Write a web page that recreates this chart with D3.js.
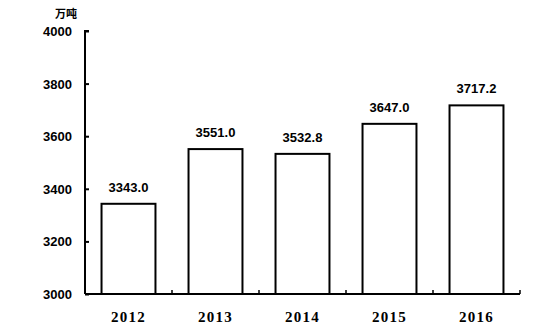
<!DOCTYPE html>
<html>
<head>
<meta charset="utf-8">
<script src="https://cdn.jsdelivr.net/npm/d3@7"></script>
<style>
  body { margin: 0; background: #fff; }
  svg { display: block; }
</style>
</head>
<body>
<div id="main"></div>
<script>
// Data
const years = ['2012', '2013', '2014', '2015', '2016'];
const values = [3343.0, 3551.0, 3532.8, 3647.0, 3717.2];
const yTicks = [3000, 3200, 3400, 3600, 3800, 4000];
const unitLabel = '万吨';

// Size of the SVG
const w = 538;
const h = 329;
const padLeft = 85;
const padRight = 520;
const padTop = 31;
const padBottom = 294;

const svg = d3.select('#main')
    .append('svg')
    .attr('width', w)
    .attr('height', h);

const xScale = d3.scaleBand()
    .domain(years)
    .range([padLeft, padRight])
    .paddingInner(0.38)
    .paddingOuter(0.19);

const yScale = d3.scaleLinear()
    .domain([3000, 4000])
    .range([padBottom, padTop]);

// bars
svg.selectAll('rect.bar')
    .data(values)
    .enter()
    .append('rect')
    .attr('class', 'bar')
    .attr('x', (d, i) => xScale(years[i]))
    .attr('y', (d) => yScale(d))
    .attr('width', xScale.bandwidth())
    .attr('height', (d) => padBottom - yScale(d))
    .style('fill', '#fff')
    .style('stroke', '#000')
    .style('stroke-width', 2);

// value labels
svg.selectAll('text.val')
    .data(values)
    .enter()
    .append('text')
    .attr('class', 'val')
    .attr('x', (d, i) => xScale(years[i]) + xScale.bandwidth() / 2)
    .attr('y', (d) => yScale(d) - 12)
    .attr('text-anchor', 'middle')
    .style('font-family', 'Arial, "Liberation Sans", sans-serif')
    .style('font-weight', 'bold')
    .style('font-size', '13px')
    .text((d) => d.toFixed(1));

// y axis
const yAxis = d3.axisRight(yScale).tickValues(yTicks).tickSize(4).tickFormat(d3.format('d'));
const gy = svg.append('g').attr('transform', `translate(${padLeft}, 0)`).call(yAxis);
gy.select('.domain').attr('d', `M4,${padTop}H0V${padBottom}`).style('stroke-width', 2);
gy.selectAll('.tick line').style('stroke-width', 2);
gy.selectAll('.tick text')
    .attr('x', -13)
    .attr('text-anchor', 'end')
    .attr('dy', '0.35em')
    .style('font-family', 'Arial, "Liberation Sans", sans-serif')
    .style('font-weight', 'bold')
    .style('font-size', '13px')
    .style('fill', '#000');

// x axis
const xBound = d3.scaleLinear().domain([0, years.length]).range([padLeft, padRight]);
const gx = svg.append('g').attr('transform', `translate(0, ${padBottom})`);
gx.append('line')
    .attr('x1', padLeft).attr('x2', padRight)
    .attr('y1', 0).attr('y2', 0)
    .style('stroke', '#000')
    .style('stroke-width', 2);
gx.selectAll('line.tk')
    .data(d3.range(1, years.length + 1))
    .enter()
    .append('line')
    .attr('class', 'tk')
    .attr('x1', (d) => xBound(d)).attr('x2', (d) => xBound(d))
    .attr('y1', 0).attr('y2', -4)
    .style('stroke', '#000')
    .style('stroke-width', 1.5);
gx.selectAll('text')
    .data(years)
    .enter()
    .append('text')
    .attr('x', (d) => xScale(d) + xScale.bandwidth() / 2)
    .attr('y', 28)
    .attr('text-anchor', 'middle')
    .style('font-family', '"Liberation Serif", "Times New Roman", serif')
    .style('font-weight', 'bold')
    .style('font-size', '15px')
    .style('letter-spacing', '1.2px')
    .text((d) => d);

// unit label
svg.append('text')
    .attr('x', 77)
    .attr('y', 18)
    .attr('text-anchor', 'end')
    .style('font-family', '"Noto Sans CJK SC", sans-serif')
    .style('font-weight', 'bold')
    .style('font-size', '11px')
    .text(unitLabel);
</script>
</body>
</html>
